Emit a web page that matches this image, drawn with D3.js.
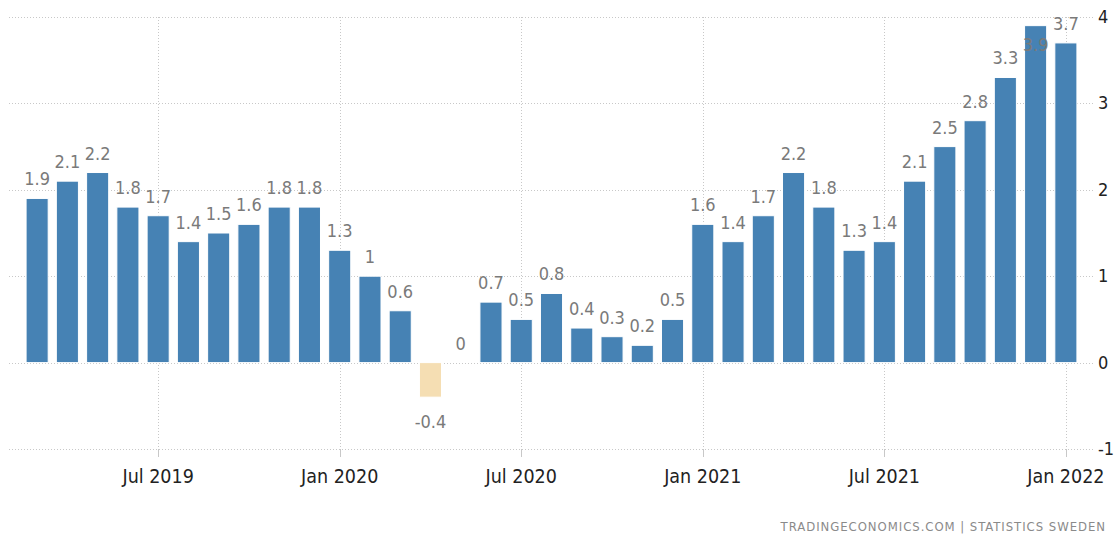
<!DOCTYPE html>
<html>
<head>
<meta charset="utf-8">
<script src="https://cdn.jsdelivr.net/npm/d3@7"></script>
<style>
  body { margin: 0; background: #fff; }
  text { font-family: "DejaVu Sans Condensed", "DejaVu Sans", sans-serif; font-stretch: condensed; }
</style>
</head>
<body>
<div id="chart"></div>
<script>
// monthly values, Mar 2019 .. Jan 2022
var months = ["2019-03","2019-04","2019-05","2019-06","2019-07","2019-08","2019-09","2019-10","2019-11","2019-12",
  "2020-01","2020-02","2020-03","2020-04","2020-05","2020-06","2020-07","2020-08","2020-09","2020-10","2020-11","2020-12",
  "2021-01","2021-02","2021-03","2021-04","2021-05","2021-06","2021-07","2021-08","2021-09","2021-10","2021-11","2021-12",
  "2022-01"];
var values = [1.9, 2.1, 2.2, 1.8, 1.7, 1.4, 1.5, 1.6, 1.8, 1.8,
  1.3, 1, 0.6, -0.4, 0, 0.7, 0.5, 0.8, 0.4, 0.3, 0.2, 0.5,
  1.6, 1.4, 1.7, 2.2, 1.8, 1.3, 1.4, 2.1, 2.5, 2.8, 3.3, 3.9,
  3.7];
var xTicks = ["2019-07","2020-01","2020-07","2021-01","2021-07","2022-01"];
var xTickLabels = ["Jul 2019","Jan 2020","Jul 2020","Jan 2021","Jul 2021","Jan 2022"];
var yTicks = [-1, 0, 1, 2, 3, 4];

var data = months.map((m, i) => ({month: m, value: values[i]}));

w = 1117
h = 534
var svg = d3.select("#chart").append("svg")
  .attr("width", w)
  .attr("height", h);

var x = d3.scaleBand()
  .domain(months)
  .range([22, 1081])
  .paddingInner(0.27)
  .paddingOuter(0.135);

var y = d3.scaleLinear()
  .domain([-1, 4])
  .range([449, 17]);

var gridLeft = 9, gridRight = 1094;

// horizontal grid
svg.append("g")
  .selectAll("line")
  .data(yTicks)
  .enter()
  .append("line")
  .attr("x1", gridLeft)
  .attr("x2", gridRight)
  .attr("y1", d => Math.round(y(d)) + 0.5)
  .attr("y2", d => Math.round(y(d)) + 0.5)
  .attr("stroke", "#c8c8c8")
  .attr("stroke-dasharray", "1,2");

// vertical grid at tick months
svg.append("g")
  .selectAll("line")
  .data(xTicks)
  .enter()
  .append("line")
  .attr("x1", d => Math.round(x(d) + x.bandwidth() / 2) + 0.5)
  .attr("x2", d => Math.round(x(d) + x.bandwidth() / 2) + 0.5)
  .attr("y1", y(4))
  .attr("y2", y(-1))
  .attr("stroke", "#c8c8c8")
  .attr("stroke-dasharray", "1,2");

// tick marks below the bottom line
svg.append("g")
  .selectAll("line")
  .data(xTicks)
  .enter()
  .append("line")
  .attr("x1", d => Math.round(x(d) + x.bandwidth() / 2) + 0.5)
  .attr("x2", d => Math.round(x(d) + x.bandwidth() / 2) + 0.5)
  .attr("y1", y(-1))
  .attr("y2", y(-1) + 8)
  .attr("stroke", "#c8c8c8");

// bars
svg.append("g")
  .selectAll("rect")
  .data(data)
  .enter()
  .append("rect")
  .attr("x", d => x(d.month))
  .attr("width", x.bandwidth())
  .attr("y", d => y(Math.max(0, d.value)))
  .attr("height", d => Math.abs(y(d.value) - y(0)))
  .attr("fill", d => d.value < 0 ? "#f5deb3" : "#4682b4")
  .attr("stroke", "#fff")
  .attr("stroke-width", 1);

// value labels
svg.append("g")
  .selectAll("text")
  .data(data)
  .enter()
  .append("text")
  .attr("x", d => x(d.month) + x.bandwidth() / 2)
  .attr("y", function(d) {
    if (d.value < 0) return y(d.value) + 31;
    var base = y(d.value) - 13;
    // keep inside the plot, like the original does for the top bar
    if (base - 13 < y(4) - 4) base = y(d.value) + 25;
    return base;
  })
  .attr("text-anchor", "middle")
  .attr("font-size", 18)
  .attr("fill", "#7a7a7a")
  .text(d => d.value);

// y labels on the right
svg.append("g")
  .selectAll("text")
  .data(yTicks)
  .enter()
  .append("text")
  .attr("x", 1098)
  .attr("y", d => y(d) + 6)
  .attr("font-size", 18)
  .attr("fill", "#222")
  .text(d => d);

// x labels
svg.append("g")
  .selectAll("text")
  .data(xTicks)
  .enter()
  .append("text")
  .attr("x", d => x(d) + x.bandwidth() / 2)
  .attr("y", 483)
  .attr("text-anchor", "middle")
  .attr("font-size", 19.5)
  .attr("fill", "#222")
  .text((d, i) => xTickLabels[i]);

// source
svg.append("text")
  .attr("x", 1106)
  .attr("y", 531)
  .attr("text-anchor", "end")
  .attr("font-size", 13)
  .attr("letter-spacing", 0.95)
  .attr("fill", "#8a8a8a")
  .text("TRADINGECONOMICS.COM  |  STATISTICS SWEDEN");
</script>
</body>
</html>
